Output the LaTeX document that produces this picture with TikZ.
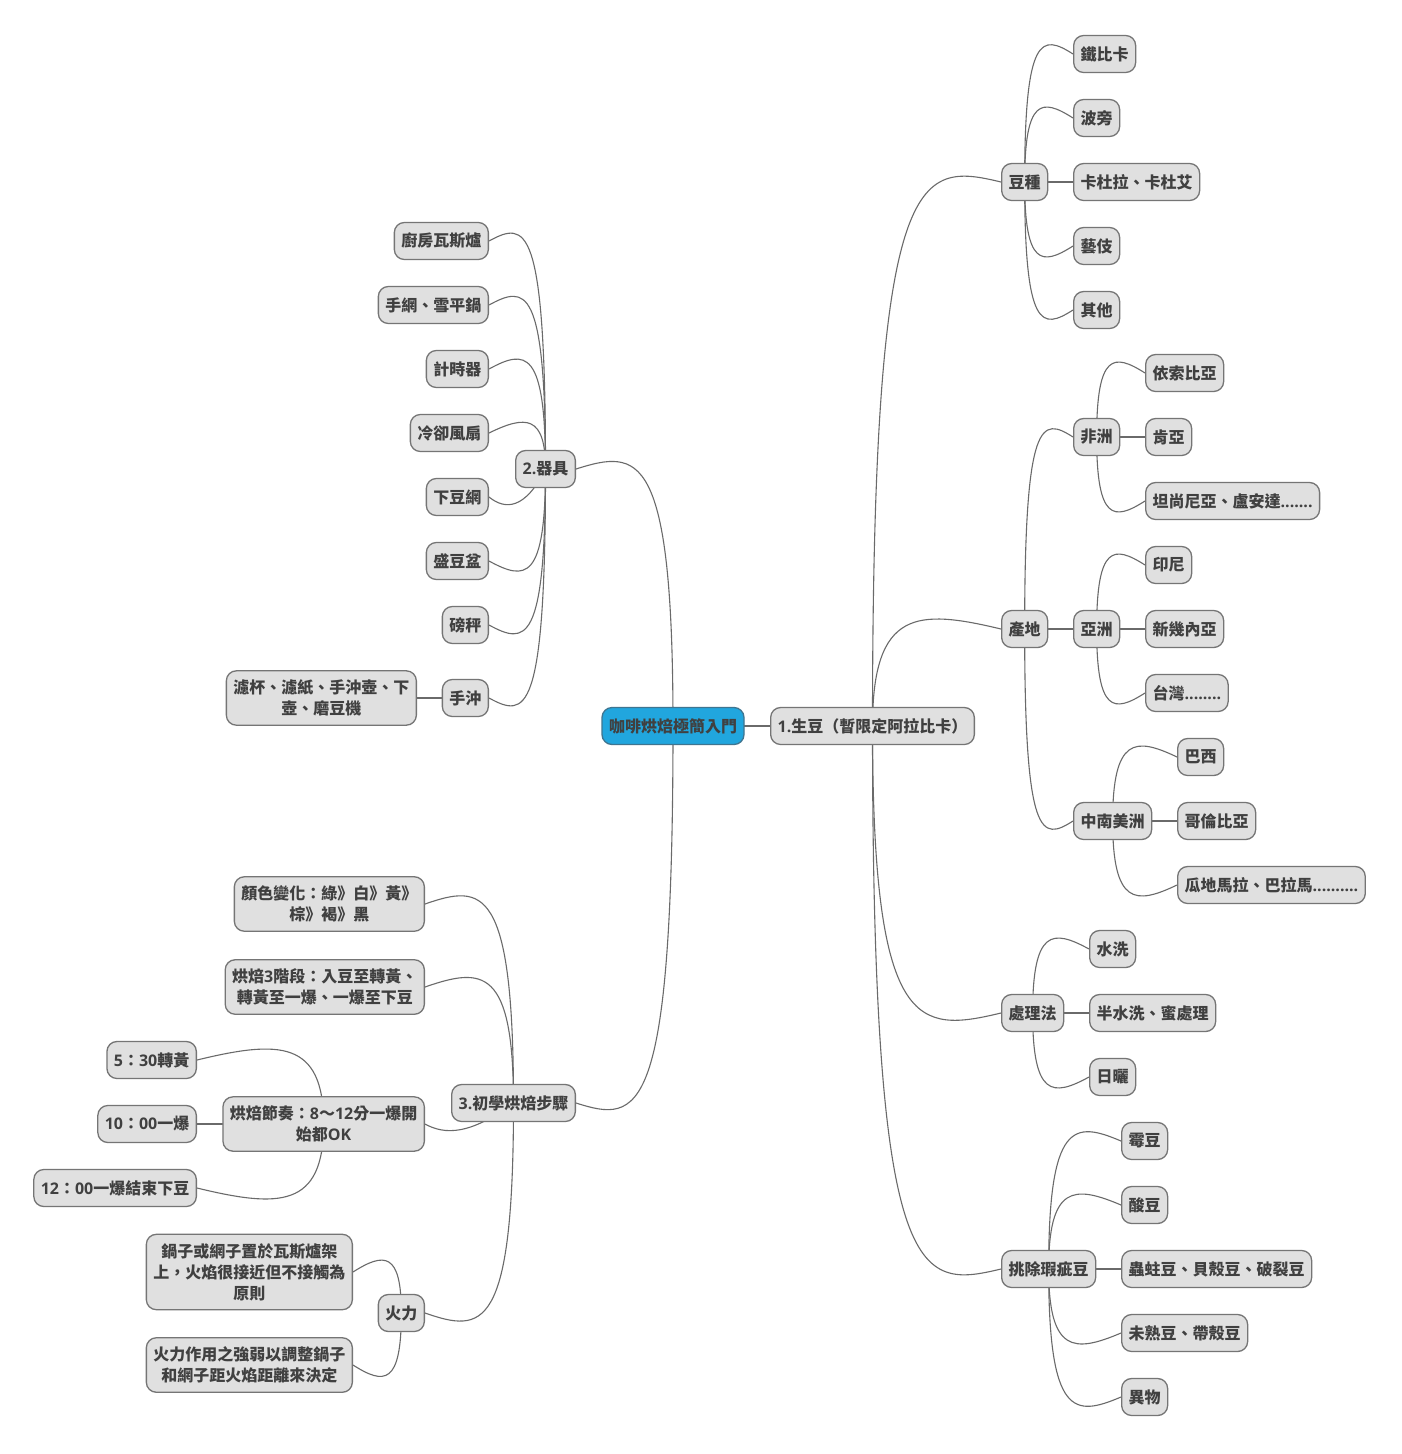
\documentclass[tikz,border=0pt]{standalone}
\usepackage{fontspec}
\setmainfont{Noto Sans CJK TC}
\newfontfamily\lat{Open Sans}
\usetikzlibrary{calc,backgrounds}
\definecolor{boxfill}{HTML}{E0E0E0}
\definecolor{boxline}{HTML}{757575}
\definecolor{txt}{HTML}{404040}
\definecolor{rootfill}{HTML}{21A6DE}
\definecolor{rootline}{HTML}{3F7590}
\definecolor{connc}{HTML}{6A6A6A}
\newcommand\cv[2]{\draw[conn] let \p1=(#1.center), \p2=(#2), \n1={sign(\y2-\y1)*min(20,0.5*abs(\y2-\y1))} in (\p1) .. controls (\x1,\y2+\n1) and ({\x1+0.35*(\x2-\x1)},\y2+\n1) .. (\p2);}
\begin{document}
\begin{tikzpicture}[x=1pt,y=-1pt,
  box/.style={draw=boxline, fill=boxfill, line width=1.3pt, rounded corners=10pt, minimum height=37pt, inner xsep=7pt, inner ysep=9pt, text=txt, font=\fontsize{16}{21}\selectfont\bfseries, align=center},
  rootbox/.style={box, fill=rootfill, draw=rootline, text=txt},
  conn/.style={draw=connc, line width=1.1pt}]
\useasboundingbox (0,0) rectangle (1401,1454);
% root and level 1
\node[rootbox] (root) at (673,726) {咖啡烘焙極簡入門};
\node[box, anchor=west] (sd) at (770,726) {{\lat 1.}生豆（暫限定阿拉比卡）};
\node[box, anchor=east] (qj) at (576,469) {{\lat 2.}器具};
\node[box, anchor=east] (bz) at (576,1103) {{\lat 3.}初學烘焙步驟};
% 1 children
\node[box, anchor=west] (dz) at (1001,182) {豆種};
\node[box, anchor=west] (cd) at (1001,629) {產地};
\node[box, anchor=west] (cl) at (1001,1013) {處理法};
\node[box, anchor=west] (tc) at (1001,1269) {挑除瑕疵豆};
% 豆種
\node[box, anchor=west] (dz1) at (1073,54) {鐵比卡};
\node[box, anchor=west] (dz2) at (1073,118) {波旁};
\node[box, anchor=west] (dz3) at (1073,182) {卡杜拉、卡杜艾};
\node[box, anchor=west] (dz4) at (1073,246) {藝伎};
\node[box, anchor=west] (dz5) at (1073,310) {其他};
% 產地
\node[box, anchor=west] (fz) at (1073,437) {非洲};
\node[box, anchor=west] (yz) at (1073,629) {亞洲};
\node[box, anchor=west] (nm) at (1073,821) {中南美洲};
\node[box, anchor=west] (fz1) at (1145,373) {依索比亞};
\node[box, anchor=west] (fz2) at (1145,437) {肯亞};
\node[box, anchor=west] (fz3) at (1145,501) {坦尚尼亞、盧安達{\lat .......}};
\node[box, anchor=west] (yz1) at (1145,565) {印尼};
\node[box, anchor=west] (yz2) at (1145,629) {新幾內亞};
\node[box, anchor=west] (yz3) at (1145,693) {台灣{\lat ........}};
\node[box, anchor=west] (nm1) at (1177,757) {巴西};
\node[box, anchor=west] (nm2) at (1177,821) {哥倫比亞};
\node[box, anchor=west] (nm3) at (1177,885) {瓜地馬拉、巴拉馬{\lat ..........}};
% 處理法
\node[box, anchor=west] (cl1) at (1089,949) {水洗};
\node[box, anchor=west] (cl2) at (1089,1013) {半水洗、蜜處理};
\node[box, anchor=west] (cl3) at (1089,1077) {日曬};
% 挑除瑕疵豆
\node[box, anchor=west] (tc1) at (1121,1141) {霉豆};
\node[box, anchor=west] (tc2) at (1121,1205) {酸豆};
\node[box, anchor=west] (tc3) at (1121,1269) {蟲蛀豆、貝殼豆、破裂豆};
\node[box, anchor=west] (tc4) at (1121,1333) {未熟豆、帶殼豆};
\node[box, anchor=west] (tc5) at (1121,1397) {異物};
% 器具
\node[box, anchor=east] (q1) at (489,241) {廚房瓦斯爐};
\node[box, anchor=east] (q2) at (489,305) {手網、雪平鍋};
\node[box, anchor=east] (q3) at (489,369) {計時器};
\node[box, anchor=east] (q4) at (489,433) {冷卻風扇};
\node[box, anchor=east] (q5) at (489,497) {下豆網};
\node[box, anchor=east] (q6) at (489,561) {盛豆盆};
\node[box, anchor=east] (q7) at (489,625) {磅秤};
\node[box, anchor=east] (q8) at (489,698) {手沖};
\node[box, anchor=east] (q81) at (417,698) {濾杯、濾紙、手沖壺、下\\壺、磨豆機};
% 步驟
\node[box, anchor=east] (b1) at (425,904) {顏色變化：綠》白》黃》\\棕》褐》黑};
\node[box, anchor=east] (b2) at (425,987) {烘焙{\lat 3}階段：入豆至轉黃、\\轉黃至一爆、一爆至下豆};
\node[box, anchor=east] (b3) at (425,1124) {烘焙節奏：{\lat 8}～{\lat 12}分一爆開\\始都{\lat OK}};
\node[box, anchor=east] (b4) at (425,1313) {火力};
\node[box, anchor=east] (b31) at (197,1060) {{\lat 5}：{\lat 30}轉黃};
\node[box, anchor=east] (b32) at (197,1124) {{\lat 10}：{\lat 00}一爆};
\node[box, anchor=east] (b33) at (197,1188) {{\lat 12}：{\lat 00}一爆結束下豆};
\node[box, anchor=east] (b41) at (353,1272) {鍋子或網子置於瓦斯爐架\\上，火焰很接近但不接觸為\\原則};
\node[box, anchor=east] (b42) at (353,1365) {火力作用之強弱以調整鍋子\\和網子距火焰距離來決定};
\begin{scope}[on background layer]
\fill[white] (0,0) rectangle (1401,1454);
\cv{root}{sd.west}
\cv{root}{qj.east}
\cv{root}{bz.east}
\cv{sd}{dz.west}
\cv{sd}{cd.west}
\cv{sd}{cl.west}
\cv{sd}{tc.west}
\foreach \c in {dz1,dz2,dz3,dz4,dz5} {\cv{dz}{\c.west}}
\foreach \c in {fz,yz,nm} {\cv{cd}{\c.west}}
\foreach \c in {fz1,fz2,fz3} {\cv{fz}{\c.west}}
\foreach \c in {yz1,yz2,yz3} {\cv{yz}{\c.west}}
\foreach \c in {nm1,nm2,nm3} {\cv{nm}{\c.west}}
\foreach \c in {cl1,cl2,cl3} {\cv{cl}{\c.west}}
\foreach \c in {tc1,tc2,tc3,tc4,tc5} {\cv{tc}{\c.west}}
\foreach \c in {q1,q2,q3,q4,q6,q7,q8} {\cv{qj}{\c.east}}
\draw[conn] (qj.center) .. controls (525,510) and (505,510) .. (q5.east);
\cv{q8}{q81.east}
\foreach \c in {b1,b2,b4} {\cv{bz}{\c.east}}
\draw[conn] (bz.center) .. controls (470,1135) and (445,1135) .. (b3.east);
\foreach \c in {b31,b32,b33} {\cv{b3}{\c.east}}
\foreach \c in {b41,b42} {\cv{b4}{\c.east}}
\end{scope}
\end{tikzpicture}
\end{document}
